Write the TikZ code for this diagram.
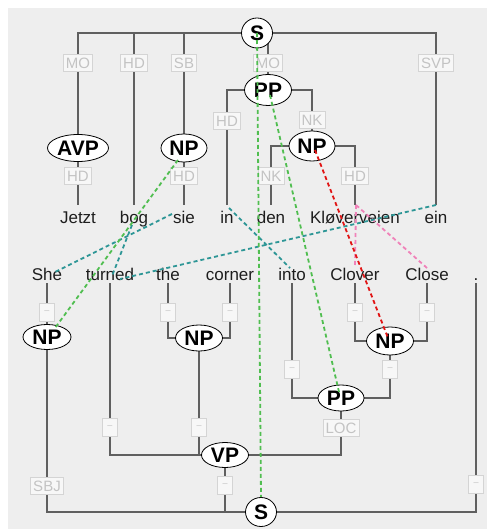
\documentclass[tikz,border=0pt]{standalone}
\usepackage{fontspec}
\setmainfont{Liberation Sans}
\usetikzlibrary{shapes.geometric}
\pgfdeclarelayer{back}
\pgfdeclarelayer{bg}
\pgfsetlayers{back,bg,main}
\definecolor{bgc}{RGB}{238,238,238}
\definecolor{treec}{RGB}{95,95,95}
\definecolor{labc}{RGB}{195,195,195}
\definecolor{labb}{RGB}{212,212,212}
\definecolor{labf}{RGB}{247,247,247}
\definecolor{alg}{RGB}{80,190,80}
\definecolor{alt}{RGB}{45,150,150}
\definecolor{alr}{RGB}{225,20,20}
\definecolor{alp}{RGB}{240,130,185}
\definecolor{wordc}{RGB}{30,30,30}
\begin{document}
\begin{tikzpicture}[x=1pt,y=-1pt,
  cat/.style={ellipse, draw=black, line width=0.8pt, fill=white, inner sep=0pt,
    font=\fontsize{21}{21}\selectfont\bfseries, text=black},
  lab/.style={rectangle, draw=labb, line width=0.8pt, fill=labf, text=labc,
    font=\fontsize{15}{15}\selectfont, inner xsep=2.5pt, inner ysep=0pt, minimum height=17pt},
  nolab/.style={lab, minimum width=15pt, minimum height=18pt, inner xsep=0pt,
    font=\fontsize{9}{9}\selectfont},
  tw/.style={anchor=base, font=\fontsize{17}{17}\selectfont, text=wordc, inner sep=0pt,
    text height=18pt, text depth=3pt},
  bw/.style={anchor=base, font=\fontsize{17}{17}\selectfont, text=wordc, inner sep=0pt,
    text height=13pt, text depth=3pt},
  tree/.style={draw=treec, line width=2.5pt},
  al/.style={line width=1.8pt, dash pattern=on 4pt off 3pt}
]
\useasboundingbox (0,0) rectangle (487,529);
\begin{pgfonlayer}{back}
\fill[bgc] (8,8) rectangle (487,529);
\end{pgfonlayer}

% ---------- upper tree (German) ----------
\node[cat, minimum width=31pt, minimum height=30pt] (S1) at (257,33) {S};
\node[cat, minimum width=47pt, minimum height=31pt] (PP1) at (268,90) {PP};
\node[cat, minimum width=61pt, minimum height=27pt] (AVP) at (78,148) {AVP};
\node[cat, minimum width=46pt, minimum height=28pt] (NP1) at (184,148) {NP};
\node[cat, minimum width=46pt, minimum height=30pt] (NP2) at (312,146) {NP};

\node[lab] (lMO1) at (78,63) {MO};
\node[lab] (lHD1) at (134,63) {HD};
\node[lab] (lSB) at (184,63) {SB};
\node[lab] (lMO2) at (268,63) {MO};
\node[lab] (lSVP) at (436,63) {SVP};
\node[lab] (lHD4) at (227,121) {HD};
\node[lab] (lNK1) at (312,120) {NK};
\node[lab] (lHD2) at (78,176) {HD};
\node[lab] (lHD3) at (184,176) {HD};
\node[lab] (lNK2) at (271,176) {NK};
\node[lab] (lHD5) at (355,176) {HD};

\node[tw] (Jetzt) at (78,223) {Jetzt};
\node[tw] (bog) at (134,223) {bog};
\node[tw] (sie) at (184,223) {sie};
\node[tw] (in) at (227,223) {in};
\node[tw] (den) at (271,223) {den};
\node[tw] (Klov) at (355,223) {Kløverveien};
\node[tw] (ein) at (436,223) {ein};

% ---------- lower tree (English) ----------
\node[bw] (She) at (47,280) {She};
\node[bw] (turned) at (110,280) {turned};
\node[bw] (the) at (168,280) {the};
\node[bw] (corner) at (230,280) {corner};
\node[bw] (into) at (292,280) {into};
\node[bw] (Clover) at (355,280) {Clover};
\node[bw] (Close) at (427,280) {Close};
\node[bw] (dot) at (476,280) {.};

\node[cat, minimum width=48pt, minimum height=25pt] (NPe1) at (47,337) {NP};
\node[cat, minimum width=47pt, minimum height=26pt] (NPe2) at (199,338) {NP};
\node[cat, minimum width=47pt, minimum height=28pt] (NPe3) at (390,341) {NP};
\node[cat, minimum width=46pt, minimum height=26pt] (PP2) at (341,398) {PP};
\node[cat, minimum width=47pt, minimum height=25pt] (VP) at (225,455) {VP};
\node[cat, minimum width=31pt, minimum height=29pt] (S2) at (261,512) {S};

\node[nolab] (dShe) at (47,312) {--};
\node[nolab] (dthe) at (168,312) {--};
\node[nolab] (dcorner) at (230,312) {--};
\node[nolab] (dClover) at (355,312) {--};
\node[nolab] (dClose) at (427,312) {--};
\node[nolab] (dinto) at (292,369) {--};
\node[nolab] (dNPe3) at (390,369) {--};
\node[nolab] (dturned) at (110,427) {--};
\node[nolab] (dNPe2) at (199,427) {--};
\node[lab] (lLOC) at (341,428) {LOC};
\node[lab] (lSBJ) at (47,486) {SBJ};
\node[nolab] (dVP) at (225,485) {--};
\node[nolab] (ddot) at (476,484) {--};

% ---------- tree edges ----------
\begin{pgfonlayer}{bg}
\draw[tree] (S1.center) -| (AVP.center);
\draw[tree] (S1.center) -| (bog.north);
\draw[tree] (S1.center) -| (NP1.center);
\draw[tree] (S1.center) -| (PP1.center);
\draw[tree] (S1.center) -| (ein.north);
\draw[tree] (AVP.center) -- (Jetzt.north);
\draw[tree] (NP1.center) -- (sie.north);
\draw[tree] (PP1.center) -| (in.north);
\draw[tree] (PP1.center) -| (NP2.center);
\draw[tree] (NP2.center) -| (den.north);
\draw[tree] (NP2.center) -| (Klov.north);

\draw[tree] (She.south) -- (NPe1.center);
\draw[tree] (NPe1.center) |- (S2.center);
\draw[tree] (turned.south) |- (VP.center);
\draw[tree] (the.south) |- (NPe2.center);
\draw[tree] (corner.south) |- (NPe2.center);
\draw[tree] (NPe2.center) |- (VP.center);
\draw[tree] (VP.center) -| (PP2.center);
\draw[tree] (into.south) |- (PP2.center);
\draw[tree] (NPe3.center) |- (PP2.center);
\draw[tree] (Clover.south) |- (NPe3.center);
\draw[tree] (Close.south) |- (NPe3.center);
\draw[tree] (VP.center) |- (S2.center);
\draw[tree] (dot.south) |- (S2.center);
\end{pgfonlayer}

% ---------- alignment links ----------
\draw[al, alp] ([shift={(1,-18)}]Klov.base) -- ([shift={(0,-14)}]Clover.base);
\draw[al, alp] ([shift={(1,-18)}]Klov.base) -- ([shift={(0,-12)}]Close.base);
\draw[al, alt] ([shift={(-12,-9)}]sie.base) -- ([shift={(8,-8)}]She.base);
\draw[al, alt] ([shift={(-2,2)}]bog.base) -- ([shift={(2,-4)}]turned.base);
\draw[al, alt] ([shift={(2,-15)}]in.base) -- ([shift={(-2,-12)}]into.base);
\draw[al, alt] ([shift={(0,-18)}]ein.base) -- ([shift={(10,-1)}]turned.base);
\draw[al, alg] ([shift={(-6,12)}]NP1.center) -- ([shift={(8,-9)}]NPe1.center);
\draw[al, alg] (S1.center) -- (S2.north);
\draw[al, alg] ([shift={(2,5)}]PP1.center) -- ([shift={(-2,-6)}]PP2.center);
\draw[al, alr] ([shift={(3,4)}]NP2.center) -- ([shift={(-2,-3)}]NPe3.center);
\end{tikzpicture}
\end{document}
